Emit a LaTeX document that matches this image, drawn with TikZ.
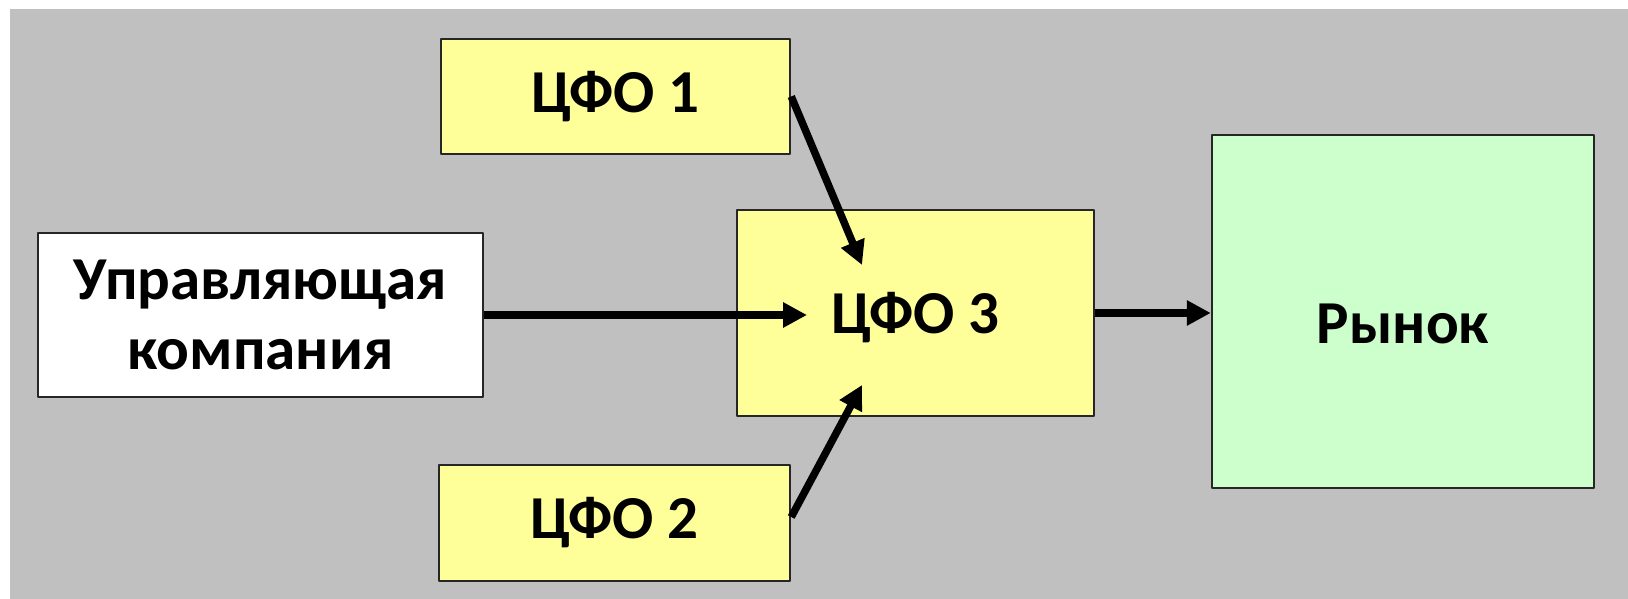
\documentclass[tikz,border=0pt]{standalone}
\usepackage{fontspec}
\setmainfont{Carlito}
\usetikzlibrary{arrows.meta}
\definecolor{bggray}{RGB}{192,192,192}
\definecolor{cfoyellow}{RGB}{255,255,153}
\definecolor{mkgreen}{RGB}{204,255,204}
\begin{document}
\begin{tikzpicture}[x=1pt,y=1pt,>={Triangle[length=24pt,width=24pt]},
  font=\fontsize{61}{70}\selectfont\bfseries, line join=round,
  box/.style={draw=black!85,line width=2.5pt,align=center,inner sep=0pt},
  arr/.style={->,line width=7.5pt}]
\useasboundingbox (0,0) rectangle (1628,599);
\fill[bggray] (10,0) rectangle (1628,590);
% units
\node[box,fill=cfoyellow,minimum width=349pt,minimum height=115pt] (c1) at (615.5,502.5) {ЦФО 1};
\node[box,fill=cfoyellow,minimum width=351pt,minimum height=116pt] (c2) at (614.5,76) {ЦФО 2};
\node[box,fill=cfoyellow,minimum width=357pt,minimum height=206pt,text depth=0pt] (c3) at (915.5,286) {ЦФО 3};
\node[box,fill=white,minimum width=445pt,minimum height=164pt] (uk) at (260.5,284) {Управляющая\\компания};
\node[box,fill=mkgreen,minimum width=382pt,minimum height=353pt,text height=64pt,text depth=0pt] (mk) at (1403,287.5) {Рынок};
% arrow ends inside c3
\coordinate (in1) at (862,334);
\coordinate (in2) at (862,214);
\coordinate (in3) at (807,284);
\draw[arr] (c1.east) -- (in1);
\draw[arr] ([yshift=6pt]c2.east) -- (in2);
\draw[arr] (uk.east) -- (in3);
\draw[arr] (c3.east) -- (c3.east -| mk.west);
\end{tikzpicture}
\end{document}
